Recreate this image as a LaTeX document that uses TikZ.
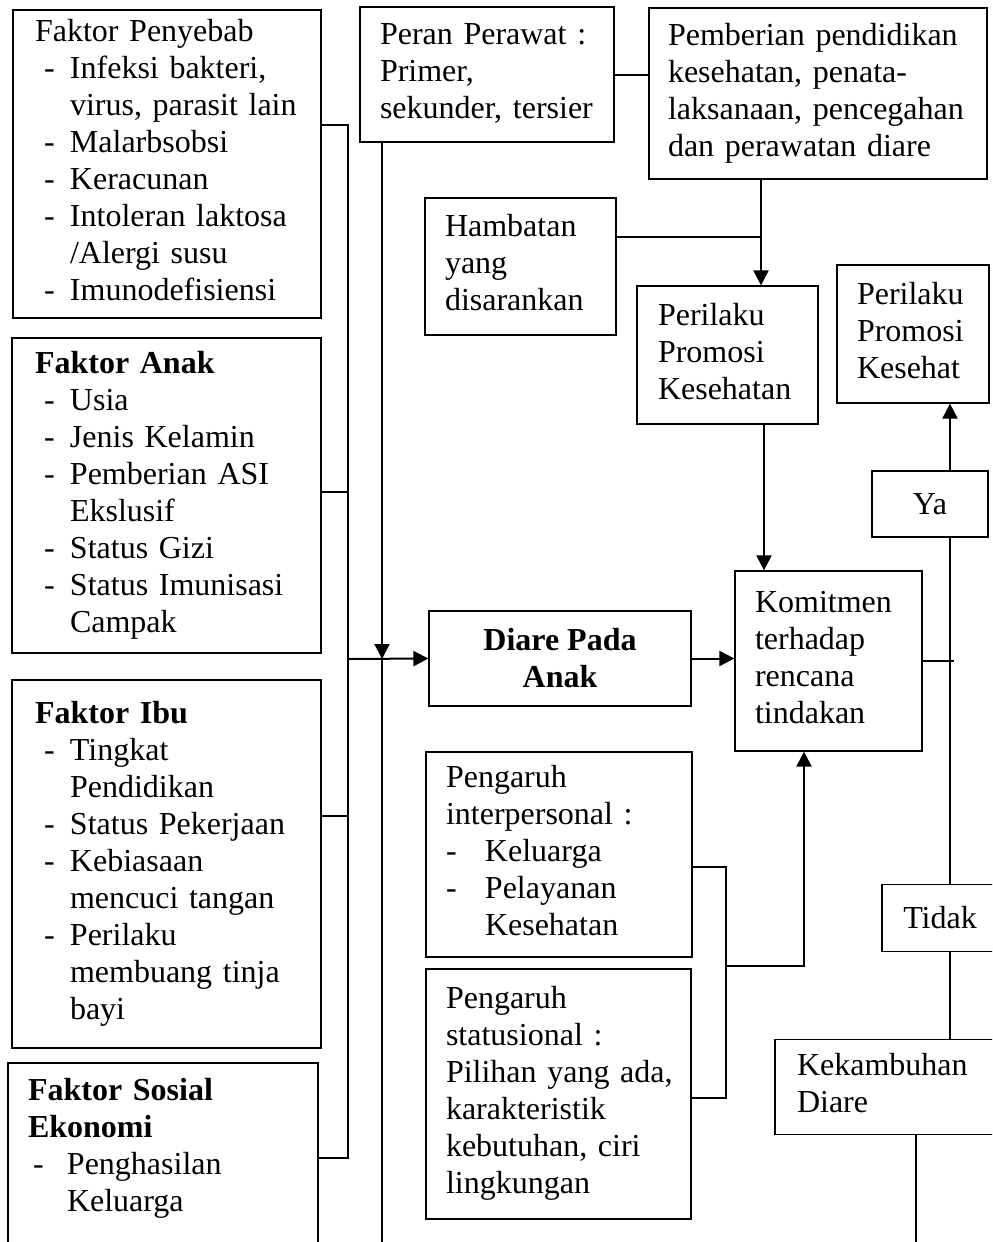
\documentclass[tikz,border=0pt]{standalone}
\usepackage{fontspec}
\setmainfont{Liberation Serif}
\usetikzlibrary{arrows.meta}

\newcommand{\boxlines}[1]{\begin{tabular}{@{}l@{}}#1\end{tabular}}
\newcommand{\itm}[1]{\makebox[17.5pt][l]{\hspace*{4.5pt}-}#1}
\newcommand{\itmw}[2][0pt]{\makebox[19.5pt][l]{\hspace*{#1}-}#2}
\newcommand{\cont}[2][17.5pt]{\hspace*{#1}#2}

\tikzset{
  box/.style={draw, line width=0.6pt, inner sep=0pt, align=left,
    font=\fontsize{16}{18.5}\selectfont},
  link/.style={line width=1pt},
  arr/.style={line width=1pt, -{Triangle[length=7.5pt,width=7.5pt]}}
}

\begin{document}
\begin{tikzpicture}[x=0.5pt, y=-0.5pt]
            \useasboundingbox (0,0) rectangle (992,1242);
            \clip (0,0) rectangle (992,1242);
            % Left column: factors
            \node[box, minimum width=154pt, minimum height=154pt, text width=132pt] (pen) at (167,164)
              {\boxlines{Faktor Penyebab\\ \itm{Infeksi bakteri,}\\ \cont{virus, parasit lain}\\
               \itm{Malarbsobsi}\\ \itm{Keracunan}\\ \itm{Intoleran laktosa}\\ \cont{/Alergi susu}\\
               \itm{Imunodefisiensi}}};
            \node[box, minimum width=154.5pt, minimum height=157.5pt, text width=131.5pt] (anak) at (166.5,495.5)
              {\boxlines{\textbf{Faktor Anak}\\ \itm{Usia}\\ \itm{Jenis Kelamin}\\ \itm{Pemberian ASI}\\
               \cont{Ekslusif}\\ \itm{Status Gizi}\\ \itm{Status Imunisasi}\\ \cont{Campak}}};
            \node[box, minimum width=154.5pt, minimum height=184pt, text width=131.5pt] (ibu) at (166.5,864)
              {\boxlines{\textbf{Faktor Ibu}\\ \itm{Tingkat}\\ \cont{Pendidikan}\\ \itm{Status Pekerjaan}\\
               \itm{Kebiasaan}\\ \cont{mencuci tangan}\\ \itm{Perilaku}\\ \cont{membuang tinja}\\ \cont{bayi}}};
            \node[box, minimum width=155pt, minimum height=104pt, text width=135pt] (sos) at (163,1167)
              {\boxlines{\textbf{Faktor Sosial}\\ \textbf{Ekonomi}\\ \itmw[2.5pt]{Penghasilan}\\
               \cont[19.5pt]{Keluarga}\\ \mbox{}}};
            % Middle and right boxes
            \node[box, minimum width=127pt, minimum height=67.5pt, text width=107pt] (peran) at (487,74.5)
              {\boxlines{Peran Perawat :\\ Primer,\\ sekunder, tersier}};
            \node[box, minimum width=169pt, minimum height=85.5pt, text width=150pt] (pem) at (818,93.5)
              {\boxlines{Pemberian pendidikan\\ kesehatan, penata-\\ laksanaan, pencegahan\\ dan perawatan diare}};
            \node[box, minimum width=95.5pt, minimum height=68.5pt, text width=75.5pt] (ham) at (520.5,266.5)
              {\boxlines{Hambatan\\ yang\\ disarankan}};
            \node[box, minimum width=90.5pt, minimum height=69pt, text width=69.5pt] (ppk) at (727.5,355)
              {\boxlines{Perilaku\\ Promosi\\ Kesehatan}};
            \node[box, minimum width=76pt, minimum height=69pt, text width=56pt] (ppk2) at (913,334)
              {\boxlines{Perilaku\\ Promosi\\ Kesehat}};
            \node[box, align=center, minimum width=58pt, minimum height=33pt] (ya) at (930,504) {Ya};
            \node[box, align=center, minimum width=131pt, minimum height=47.5pt] (diare) at (560,658.5)
              {\textbf{Diare Pada}\\ \textbf{Anak}};
            \node[box, minimum width=93.5pt, minimum height=90pt, text width=73.5pt] (kom) at (828.5,661)
              {\boxlines{Komitmen\\ terhadap\\ rencana\\ tindakan}};
            \node[box, minimum width=133pt, minimum height=102.5pt, text width=113pt] (inter) at (559,854.5)
              {\boxlines{Pengaruh\\ interpersonal :\\ \itmw{Keluarga}\\ \itmw{Pelayanan}\\ \cont[19.5pt]{Kesehatan}}};
            \node[box, minimum width=132.5pt, minimum height=125pt, text width=112.5pt] (stat) at (558.5,1094)
              {\boxlines{Pengaruh\\ statusional :\\ Pilihan yang ada,\\ karakteristik\\ kebutuhan, ciri\\ lingkungan}};
            \node[box, align=center, minimum width=58pt, minimum height=33.5pt] (tidak) at (940,918) {Tidak};
            \node[box, minimum width=112.5pt, minimum height=47.5pt, text width=90.5pt] (kek) at (887.5,1087)
              {\boxlines{Kekambuhan\\ Diare}};
            % Bus on the left
            \coordinate (b1) at (348,125);
            \coordinate (b2) at (348,492);
            \coordinate (b3) at (348,816);
            \coordinate (b4) at (348,1158);
            \coordinate (bm) at (348,659);
            \draw[link] (pen.east |- b1) -- (b1) -- (b4) -- (sos.east |- b4);
            \draw[link] (anak.east |- b2) -- (b2);
            \draw[link] (ibu.east |- b3) -- (b3);
            \draw[arr] (bm) -- (diare.west);
            % Nurse role line
            \coordinate (pv) at (382,659);
            \coordinate (pvend) at (382,1242);
            \draw[arr] (peran.south -| pv) -- (pv);
            \draw[link] (pv) -- (pvend);
            \draw[link] (peran.east) -- (pem.west |- peran.east);
            % Education and barriers
            \coordinate (hj) at (761,237);
            \draw[arr] (pem.south -| hj) -- (ppk.north -| hj);
            \draw[link] (ham.east |- hj) -- (hj);
            \coordinate (pk) at (764,0);
            \draw[arr] (ppk.south -| pk) -- (kom.north -| pk);
            \draw[arr] (diare.east) -- (kom.west |- diare.east);
            % Influences
            \coordinate (i1) at (726,867);
            \coordinate (i2) at (726,1098);
            \coordinate (ij) at (726,966);
            \coordinate (kx) at (804,0);
            \draw[link] (inter.east |- i1) -- (i1) -- (i2) -- (stat.east |- i2);
            \draw[arr] (ij) -| (kom.south -| kx);
            % Right: outcome
            \coordinate (ke) at (954,663);
            \coordinate (rv) at (950,0);
            \coordinate (kv) at (916,1242);
            \draw[link] (kom.east) -- (kom.east -| ke);
            \draw[arr] (ya.north -| rv) -- (ppk2.south -| rv);
            \draw[link] (ya.south -| rv) -- (tidak.north -| rv);
            \draw[link] (tidak.south -| rv) -- (kek.north -| rv);
            \draw[link] (kek.south -| kv) -- (kv);
        \end{tikzpicture}
\end{document}
